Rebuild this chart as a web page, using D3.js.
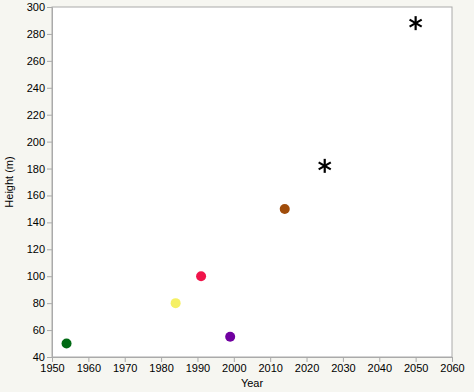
<!DOCTYPE html>
<meta charset="utf-8">
<style>
  body { margin: 0; background: #f6f6f1; }
  svg { display: block; font-family: "Liberation Sans", Arial, sans-serif; }
  .axis text { font-size: 11px; fill: #000; }
  .axis line, .axis path { stroke: #aaa; }
</style>
<div id="chart"></div>
<script src="https://cdn.jsdelivr.net/npm/d3@7"></script>
<script>
  // points (circles)
  var years   = [1954, 1984, 1991, 1999, 2014];
  var heights = [50, 80, 100, 55, 150];
  var colors  = ["#006a14", "#f5f064", "#f0144a", "#7000a0", "#a04c0a"];

  // planned (asterisks)
  var planYears   = [2025, 2050];
  var planHeights = [182, 288];

  var xTicks = d3.range(1950, 2061, 10);
  var yTicks = d3.range(40, 301, 20);

  var W = 474, H = 392;
  var margin = {top: 7, right: 22, bottom: 35, left: 52};
  var width = W - margin.left - margin.right;
  var height = H - margin.top - margin.bottom;

  var svg = d3.select("#chart").append("svg")
      .attr("width", W)
      .attr("height", H)
    .append("g")
      .attr("transform", "translate(" + margin.left + "," + margin.top + ")");

  var x = d3.scaleLinear().domain([1950, 2060]).range([0, width]);
  var y = d3.scaleLinear().domain([40, 300]).range([height, 0]);

  // plot frame
  svg.append("rect")
      .attr("width", width)
      .attr("height", height)
      .attr("fill", "#fff")
      .attr("stroke", "#aaa");

  svg.append("g")
      .attr("class", "axis")
      .attr("transform", "translate(0," + height + ")")
      .call(d3.axisBottom(x).tickValues(xTicks).tickFormat(d3.format("d")).tickSize(5).tickPadding(2));

  svg.append("g")
      .attr("class", "axis")
      .call(d3.axisLeft(y).tickValues(yTicks).tickSize(5).tickPadding(2));

  svg.append("text")
      .attr("x", width / 2)
      .attr("y", height + 30)
      .attr("text-anchor", "middle")
      .attr("font-size", 11)
      .text("Year");

  svg.append("text")
      .attr("transform", "translate(-39," + (height / 2) + ") rotate(-90)")
      .attr("text-anchor", "middle")
      .attr("font-size", 11)
      .text("Height (m)");

  // circles
  svg.append("g").selectAll("circle")
      .data(years)
    .enter().append("circle")
      .attr("cx", function(d) { return x(d); })
      .attr("cy", function(d, i) { return y(heights[i]); })
      .attr("r", 5)
      .attr("fill", function(d, i) { return colors[i]; });

  // asterisks: vertical + two arms at +-30deg
  var arm = 7;
  var star = svg.append("g").selectAll("g")
      .data(planYears)
    .enter().append("g")
      .attr("transform", function(d, i) { return "translate(" + x(d) + "," + y(planHeights[i]) + ")"; });

  [90, 30, -30].forEach(function(a) {
    var r = a * Math.PI / 180;
    star.append("line")
        .attr("x1", -arm * Math.cos(r)).attr("y1", -arm * Math.sin(r))
        .attr("x2", arm * Math.cos(r)).attr("y2", arm * Math.sin(r))
        .attr("stroke", "#000")
        .attr("stroke-width", 2.2);
  });
</script>
